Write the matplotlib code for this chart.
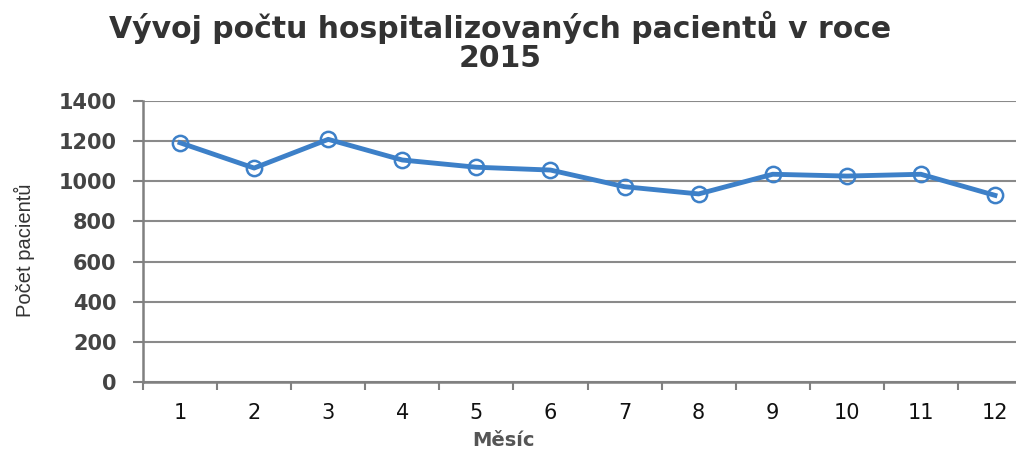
import matplotlib
matplotlib.use("Agg")
import matplotlib.pyplot as plt
from matplotlib.ticker import FixedLocator

months = [1, 2, 3, 4, 5, 6, 7, 8, 9, 10, 11, 12]
patients = [1192, 1066, 1209, 1106, 1070, 1056, 973, 937, 1035, 1026, 1035, 930]
yticks = [0, 200, 400, 600, 800, 1000, 1200, 1400]

plt.rcParams['font.family'] = ['DejaVu Sans']

fig = plt.figure(figsize=(10.16, 4.53), dpi=100)
ax = fig.add_axes([143/1016, 1 - 382/453, (1032-143)/1016, (382-101)/453])

line_color = '#3d80c8'
ax.plot(months, patients, color=line_color, lw=3.5, marker='o', ms=11,
        mfc='none', mec=line_color, mew=1.8, zorder=3)

ax.set_xlim(0.5, 12.5)
ax.set_ylim(0, 1400)
ax.set_yticks(yticks)
ax.set_xticks(months)
ax.xaxis.set_minor_locator(FixedLocator([m + 0.5 for m in [0] + months]))
ax.tick_params(axis='x', which='major', length=0, pad=15, labelsize=15, labelcolor='#111111')
ax.tick_params(axis='x', which='minor', length=6, width=1.5, color='#808080', direction='out')
ax.tick_params(axis='y', length=7, width=1.5, color='#808080', labelsize=15, labelcolor='#444444', pad=12)
for lbl in ax.get_yticklabels():
    lbl.set_fontweight('bold')

ax.grid(axis='y', color='#8a8a8a', lw=1.5)
ax.set_axisbelow(True)
for s in ['top', 'right']:
    ax.spines[s].set_visible(False)
for s in ['left', 'bottom']:
    ax.spines[s].set_color('#808080')
    ax.spines[s].set_linewidth(1.8)

ax.set_ylabel('Počet pacientů', fontsize=14.5, color='#333333', family='Liberation Sans')
ax.yaxis.set_label_coords(-0.121, 0.47)
ax.set_xlabel('Měsíc', fontsize=14, fontweight='bold', color='#555555')
ax.xaxis.set_label_coords((503-143)/(1032-143), -0.175)

fig.text(0.492, 0.975, 'Vývoj počtu hospitalizovaných pacientů v roce\n2015',
         ha='center', va='top', fontsize=21.5, fontweight='bold', color='#333333',
         linespacing=1.0)

fig.savefig('out.png', dpi=100)
